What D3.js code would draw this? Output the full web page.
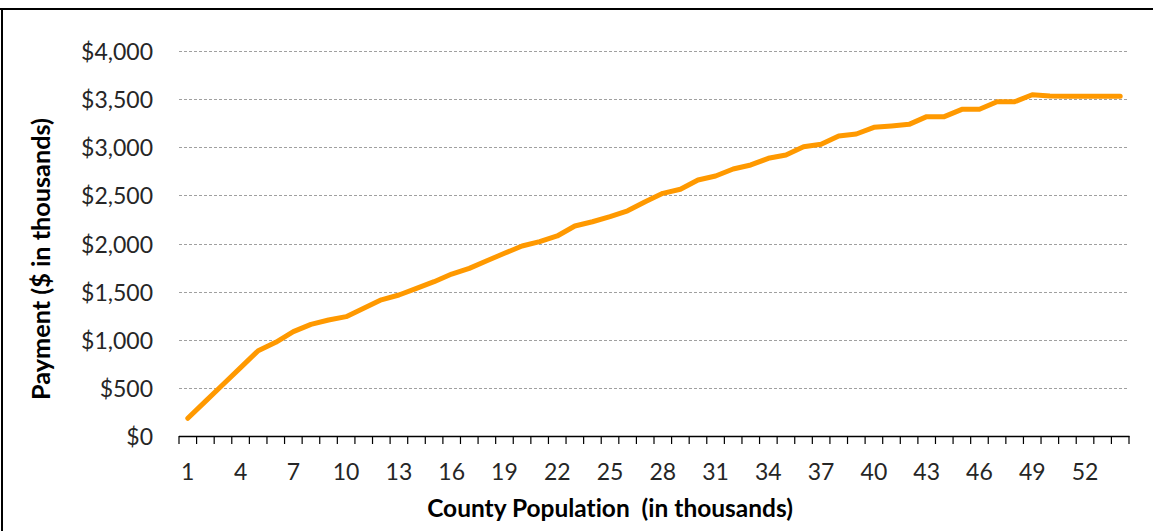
<!DOCTYPE html>
<html>
<head>
<meta charset="utf-8">
<script src="https://cdn.jsdelivr.net/npm/d3@7"></script>
<style>
  html, body { margin: 0; padding: 0; background: #fff; }
  svg { display: block; }
  text { font-family: Lato, "Open Sans", sans-serif; fill: #262626; font-variant-ligatures: none; }
</style>
</head>
<body>
<svg id="chart" width="1153" height="531"></svg>
<script>
// ---- data ----
const categories = d3.range(1, 55);           // county population, thousands: 1..54
const payments = [
  184, 360, 535, 710, 886, 973, 1084, 1160, 1205, 1240,
  1327, 1415, 1465, 1534, 1603, 1683, 1742, 1820, 1898, 1974,
  2019, 2078, 2182, 2226, 2279, 2340, 2434, 2521, 2563, 2660,
  2701, 2774, 2816, 2885, 2920, 3006, 3031, 3118, 3138, 3207,
  3221, 3238, 3318, 3318, 3394, 3394, 3473, 3473, 3546, 3532,
  3530, 3530, 3530, 3530
];
const yTicks = [0, 500, 1000, 1500, 2000, 2500, 3000, 3500, 4000];
const xTickLabels = categories.filter((d, i) => i % 3 === 0); // 1,4,7,...,52
const xTitle = "County Population  (in thousands)";
const yTitle = "Payment ($ in thousands)";

// ---- layout ----
const W = 1153, H = 531;
const plot = { left: 179, right: 1129, top: 51, bottom: 436 };

const svg = d3.select("#chart");

// frame (top and left edges only)
svg.append("line").attr("x1", 0).attr("x2", W).attr("y1", 9).attr("y2", 9)
  .attr("stroke", "#000").attr("stroke-width", 2);
svg.append("line").attr("x1", 2).attr("x2", 2).attr("y1", 8).attr("y2", H)
  .attr("stroke", "#000").attr("stroke-width", 2);

const x = d3.scaleBand().domain(categories).range([plot.left, plot.right]).padding(0);
const y = d3.scaleLinear().domain([0, 4000]).range([plot.bottom, plot.top]);

// gridlines
svg.append("g").selectAll("line").data(yTicks.filter(d => d > 0)).join("line")
  .attr("x1", plot.left).attr("x2", plot.right)
  .attr("y1", d => Math.round(y(d)) + 0.5).attr("y2", d => Math.round(y(d)) + 0.5)
  .attr("stroke", "#a0a0a0").attr("stroke-width", 1)
  .attr("stroke-dasharray", "3,2");

// y tick labels
svg.append("g").selectAll("text").data(yTicks).join("text")
  .attr("x", 153).attr("y", d => y(d))
  .attr("text-anchor", "end").attr("dominant-baseline", "central")
  .style("font-size", "23px")
  .text(d => "$" + d3.format(",")(d));

// x axis line and ticks (between categories)
const xAxisG = svg.append("g");
xAxisG.append("line").attr("x1", plot.left).attr("x2", plot.right + 0.5)
  .attr("y1", plot.bottom + 0.5).attr("y2", plot.bottom + 0.5)
  .attr("stroke", "#000").attr("stroke-width", 1.5);
const tickPos = categories.map(c => x(c)).concat([x(categories[categories.length - 1]) + x.bandwidth()]);
xAxisG.selectAll("line.tick").data(tickPos).join("line").attr("class", "tick")
  .attr("x1", d => d).attr("x2", d => d)
  .attr("y1", plot.bottom).attr("y2", plot.bottom + 8)
  .attr("stroke", "#000").attr("stroke-width", 1.2);

// x tick labels
xAxisG.selectAll("text").data(xTickLabels).join("text")
  .attr("x", d => x(d) + x.bandwidth() / 2).attr("y", 471)
  .attr("text-anchor", "middle").attr("dominant-baseline", "central")
  .style("font-size", "23px")
  .text(d => d);

// line
const line = d3.line()
  .x((d, i) => x(categories[i]) + x.bandwidth() / 2)
  .y(d => y(d));
svg.append("path").datum(payments)
  .attr("d", line)
  .attr("fill", "none")
  .attr("stroke", "#FF9900")
  .attr("stroke-width", 5)
  .attr("stroke-linejoin", "round")
  .attr("stroke-linecap", "round");

// axis titles
function fit(sel, target) {
  const len = sel.node().getComputedTextLength();
  const fs = parseFloat(sel.style("font-size"));
  sel.style("font-size", (fs * target / len) + "px");
}
const xt = svg.append("text")
  .attr("x", 610).attr("y", 507)
  .attr("text-anchor", "middle").attr("dominant-baseline", "central")
  .style("font-size", "20px").style("font-weight", "bold").style("fill", "#000")
  .style("white-space", "pre").attr("xml:space", "preserve")
  .text(xTitle);
fit(xt, 366);

const yt = svg.append("text")
  .attr("transform", "translate(40,259) rotate(-90)")
  .attr("text-anchor", "middle").attr("dominant-baseline", "central")
  .style("font-size", "20px").style("font-weight", "bold").style("fill", "#000")
  .text(yTitle);
fit(yt, 282);
</script>
</body>
</html>
